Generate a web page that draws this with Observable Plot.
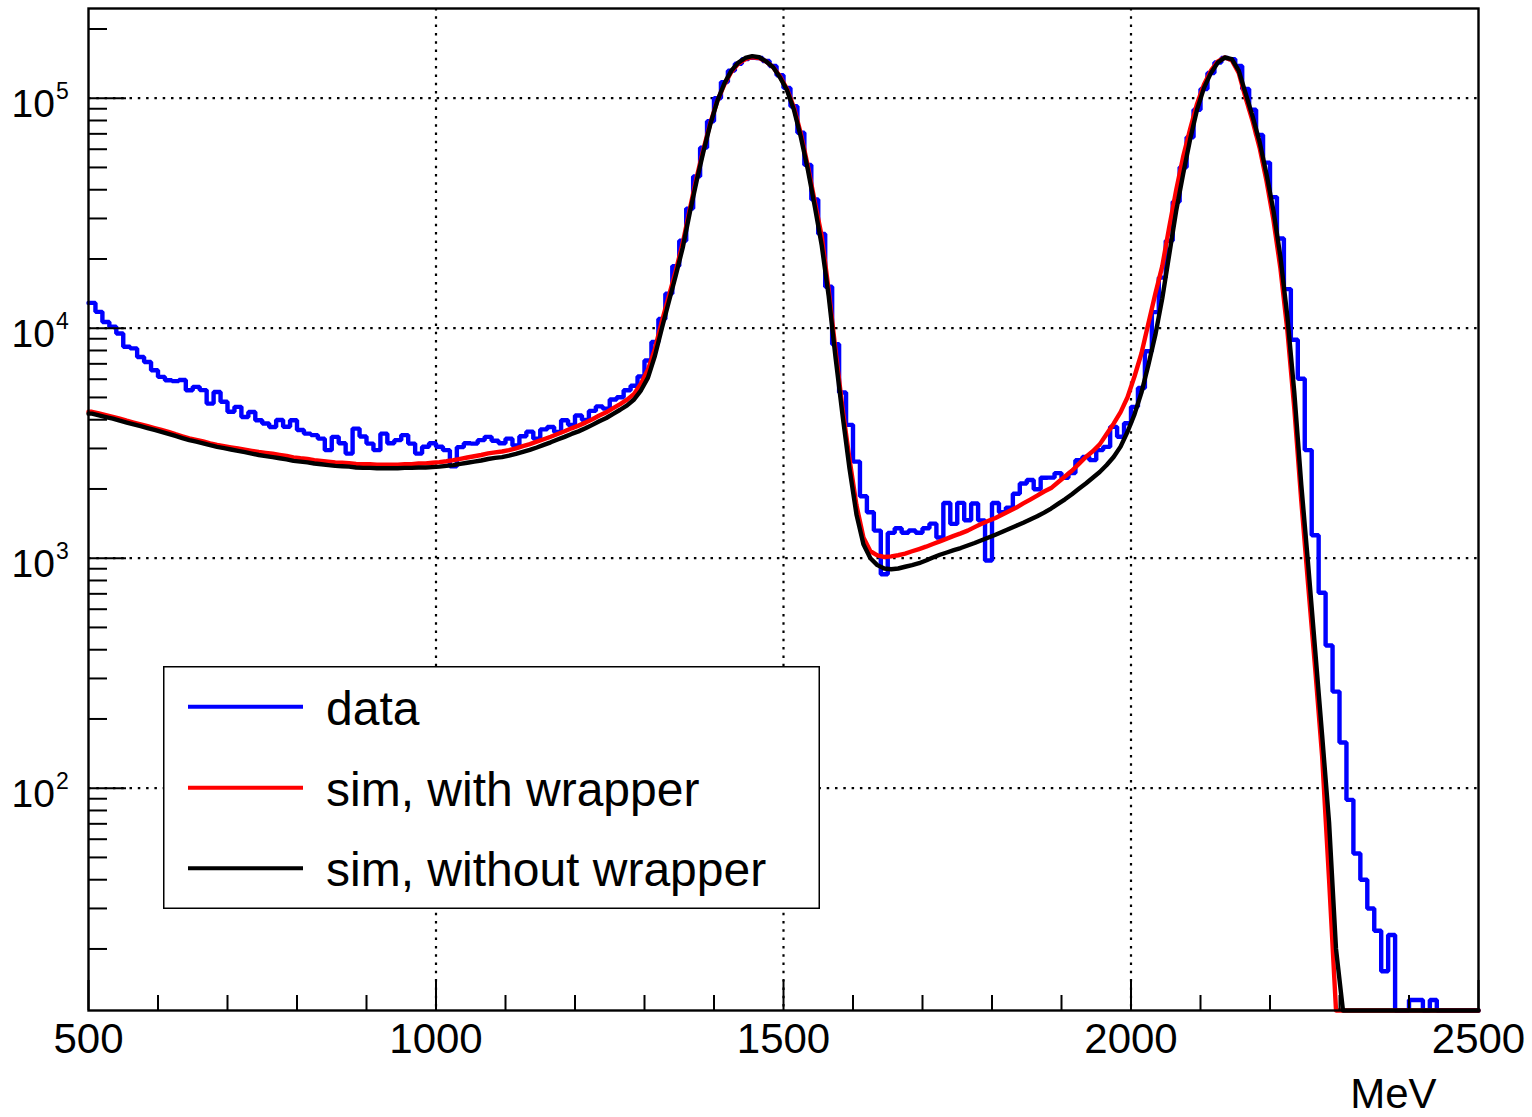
<!DOCTYPE html>
<html>
<head>
<meta charset="utf-8">
<script src="https://cdn.jsdelivr.net/npm/d3@7"></script>
<script src="https://cdn.jsdelivr.net/npm/@observablehq/plot@0.6"></script>
<style>
  body { margin: 0; background: #fff; }
  #wrap { position: relative; width: 1532px; height: 1117px; }
  #legend { position: absolute; left: 163px; top: 666px; }
</style>
</head>
<body>
<div id="wrap"></div>
<script>
// ---- histogram binning (MeV) ----
const binStart = 500;
const binWidth = 10;

// ---- series: counts per 10 MeV bin, 500..2500 MeV ----
const dataCounts = [
  12880, 11780, 10640, 10140, 9480, 8300, 8170, 7500, 7130, 6560,
  6140, 5940, 5890, 5950, 5370, 5560, 5380, 4700, 5280, 4790,
  4330, 4550, 4110, 4320, 3980, 3850, 3720, 3990, 3730, 3980,
  3610, 3480, 3430, 3310, 2950, 3370, 3160, 2850, 3660, 3380,
  3150, 2950, 3480, 3160, 3260, 3430, 3150, 2850, 3050, 3160,
  3050, 2950, 2510, 3040, 3160, 3150, 3260, 3370, 3240, 3160,
  3310, 3090, 3390, 3550, 3310, 3630, 3720, 3540, 3980, 3800,
  4170, 3990, 4370, 4570, 4470, 4900, 5010, 5370, 5620, 6170,
  7240, 8710, 10960, 14130, 18620, 23990, 33110, 45710, 60950, 79430,
  100000, 117500, 131800, 141300, 147900, 150000, 149600, 145200, 138000, 125900,
  110900, 92260, 70790, 51290, 36310, 25700, 15140, 8510, 5250, 3800,
  2630, 1860, 1585, 1318, 851, 1288, 1349, 1290, 1320, 1290,
  1350, 1413, 1230, 1738, 1410, 1740, 1462, 1730, 1460, 977,
  1738, 1585, 1660, 1905, 2113, 2188, 1995, 2239, 2240, 2344,
  2238, 2345, 2667, 2754, 2670, 2951, 3048, 3724, 3373, 3864,
  4550, 5495, 7943, 11750, 16600, 23990, 35480, 50120, 67610, 89130,
  109600, 128800, 142900, 149600, 147900, 138000, 109600, 89130, 69180, 52480,
  37150, 24550, 14790, 8913, 6026, 2951, 1259, 708, 417, 263,
  158, 89, 52, 40, 30, 24, 16, 23, 0, 0,
  12, 12, 0, 12, 0, 0, 0, 0, 0, 0
];

const simWithWrapper = [
  4330, 4260, 4190, 4120, 4040, 3960, 3890, 3820, 3750, 3680,
  3610, 3540, 3460, 3390, 3320, 3270, 3220, 3160, 3110, 3070,
  3035, 3000, 2965, 2930, 2895, 2870, 2845, 2815, 2785, 2745,
  2720, 2700, 2670, 2650, 2630, 2610, 2600, 2590, 2570, 2560,
  2560, 2550, 2550, 2550, 2550, 2560, 2565, 2580, 2585, 2600,
  2615, 2640, 2670, 2705, 2740, 2775, 2810, 2855, 2885, 2910,
  2950, 3005, 3070, 3135, 3210, 3290, 3375, 3470, 3565, 3670,
  3770, 3885, 4020, 4170, 4310, 4490, 4680, 4890, 5180, 5750,
  6607, 8128, 10720, 13800, 17780, 23440, 32730, 45190, 60260, 78520,
  97720, 114800, 130300, 141300, 147900, 150700, 149600, 144500, 136500, 124500,
  109600, 91200, 69980, 50700, 35480, 25120, 14620, 7943, 4467, 2692,
  1698, 1230, 1072, 1028, 1012, 1019, 1030, 1047, 1072, 1096,
  1122, 1153, 1183, 1216, 1250, 1282, 1318, 1365, 1413, 1455,
  1496, 1549, 1603, 1660, 1730, 1799, 1871, 1950, 2018, 2138,
  2265, 2399, 2570, 2754, 2917, 3126, 3467, 3846, 4315, 5012,
  6166, 7762, 10470, 14130, 18620, 27540, 39810, 55590, 73280, 94410,
  114800, 131800, 144500, 150300, 146200, 128800, 100000, 79430, 60950, 43650,
  29510, 18200, 9772, 4467, 1778, 759, 331, 138, 40, 0,
  0, 0, 0, 0, 0, 0, 0, 0, 0, 0,
  0, 0, 0, 0, 0, 0, 0, 0, 0, 0
];

const simWithoutWrapper = [
  4250, 4180, 4110, 4040, 3960, 3890, 3820, 3750, 3680, 3610,
  3540, 3470, 3400, 3330, 3260, 3210, 3160, 3100, 3050, 3010,
  2970, 2930, 2890, 2850, 2810, 2780, 2750, 2720, 2690, 2650,
  2630, 2610, 2580, 2560, 2540, 2520, 2510, 2500, 2480, 2470,
  2470, 2460, 2460, 2460, 2460, 2470, 2470, 2480, 2480, 2490,
  2500, 2520, 2540, 2570, 2600, 2630, 2660, 2700, 2730, 2750,
  2790, 2840, 2900, 2960, 3030, 3110, 3190, 3280, 3370, 3470,
  3560, 3670, 3800, 3940, 4070, 4240, 4420, 4620, 4900, 5370,
  6100, 7590, 10000, 13030, 16980, 22390, 31620, 43650, 58880, 77620,
  97720, 116100, 131800, 142900, 149600, 152400, 150700, 144500, 136500, 123000,
  108400, 89130, 67610, 48980, 33880, 22910, 13800, 7410, 4170, 2450,
  1550, 1150, 1000, 933, 902, 895, 902, 918, 933, 951,
  977, 1007, 1035, 1059, 1084, 1107, 1135, 1164, 1197, 1230,
  1265, 1303, 1343, 1384, 1426, 1472, 1521, 1578, 1644, 1722,
  1803, 1897, 2004, 2113, 2239, 2371, 2541, 2754, 3055, 3548,
  4217, 5248, 6918, 9333, 13490, 20890, 32360, 46770, 66070, 89130,
  110900, 128800, 142900, 150300, 147900, 131800, 104700, 83180, 64570, 46770,
  32360, 20420, 11220, 5248, 2089, 933, 398, 170, 71, 20,
  0, 0, 0, 0, 0, 0, 0, 0, 0, 0,
  0, 0, 0, 0, 0, 0, 0, 0, 0, 0
];

// ---- axes ----
const xDomain = [500, 2500];
const yDomain = [10.8, 245500];
const xTicksMajor = [500, 1000, 1500, 2000, 2500];
const xTicksMinor = [600, 700, 800, 900, 1100, 1200, 1300, 1400, 1600, 1700, 1800, 1900, 2100, 2200, 2300, 2400];
const xGridValues = [1000, 1500, 2000];
const yTicksMajor = [100, 1000, 10000, 100000];
const yTickBase = "10";
const yTickExponents = ["2", "3", "4", "5"];
const yTicksMinor = [20, 30, 40, 50, 60, 70, 80, 90,
  200, 300, 400, 500, 600, 700, 800, 900,
  2000, 3000, 4000, 5000, 6000, 7000, 8000, 9000,
  20000, 30000, 40000, 50000, 60000, 70000, 80000, 90000, 200000];
const xAxisTitle = "MeV";

// ---- legend ----
const legendLabels = ["data", "sim, with wrapper", "sim, without wrapper"];
const seriesColors = ["#0000ff", "#ff0000", "#000000"];

const yFloor = v => Math.max(v, yDomain[0]);
const nBins = dataCounts.length;
const xEnd = binStart + nBins * binWidth;

// step-histogram rows: bin low edges + closing right edge
function stepRows(values) {
  const rows = values.map((v, i) => ({x: binStart + i * binWidth, v}));
  rows.push({x: xEnd, v: values[values.length - 1]});
  return rows;
}
// smooth rows through bin centres, held flat to the outer edges
function centreRows(values) {
  const rows = [{x: binStart, v: values[0]}];
  values.forEach((v, i) => rows.push({x: binStart + (i + 0.5) * binWidth, v}));
  rows.push({x: xEnd, v: values[values.length - 1]});
  return rows;
}

const W = 1532, H = 1117;
const mL = 88, mR = 54, mT = 8, mB = 107;
const plotW = W - mL - mR, plotH = H - mT - mB;
const font = "'Liberation Sans', Arial, Helvetica, sans-serif";
const dotted = {stroke: "black", strokeWidth: 2.2, strokeDasharray: "2.5,5.8"};
const lineW = 4.4;

const chart = Plot.plot({
  width: W, height: H,
  marginLeft: mL, marginRight: mR, marginTop: mT, marginBottom: mB,
  style: {fontFamily: font, background: "white", overflow: "visible"},
  x: {domain: xDomain, axis: null},
  y: {type: "log", domain: yDomain, axis: null},
  marks: [
    Plot.ruleX(xGridValues, {x: d => d, ...dotted}),
    Plot.ruleY(yTicksMajor, {y: d => d, ...dotted}),
    Plot.line(stepRows(dataCounts), {x: "x", y: d => yFloor(d.v), curve: "step-after",
      stroke: seriesColors[0], strokeWidth: lineW, strokeLinejoin: "miter"}),
    Plot.line(centreRows(simWithWrapper), {x: "x", y: d => yFloor(d.v), curve: "linear",
      stroke: seriesColors[1], strokeWidth: lineW}),
    Plot.line(centreRows(simWithoutWrapper), {x: "x", y: d => yFloor(d.v), curve: "linear",
      stroke: seriesColors[2], strokeWidth: lineW}),
    Plot.tickX(xTicksMajor, {x: d => d, insetTop: plotH - 30, stroke: "black", strokeWidth: 2}),
    Plot.tickX(xTicksMinor, {x: d => d, insetTop: plotH - 15, stroke: "black", strokeWidth: 2}),
    Plot.tickY(yTicksMajor, {y: d => d, insetRight: plotW - 38, stroke: "black", strokeWidth: 2}),
    Plot.tickY(yTicksMinor, {y: d => d, insetRight: plotW - 19, stroke: "black", strokeWidth: 2}),
    Plot.frame({stroke: "black", strokeWidth: 2.4}),
    Plot.text(xTicksMajor, {x: d => d, frameAnchor: "bottom", lineAnchor: "bottom", dy: 42,
      text: d => String(d), fontSize: 42, textAnchor: "middle"}),
    Plot.text(yTicksMajor, {y: d => d, frameAnchor: "left", textAnchor: "end", lineAnchor: "bottom",
      dx: -33.5, dy: 19, text: () => yTickBase, fontSize: 39}),
    Plot.text(yTicksMajor, {y: d => d, frameAnchor: "left", textAnchor: "start", lineAnchor: "bottom",
      dx: -32.5, dy: 0.6, text: (d, i) => yTickExponents[i], fontSize: 23}),
    Plot.text([xAxisTitle], {frameAnchor: "bottom-right", textAnchor: "end", lineAnchor: "bottom",
      dx: -42, dy: 97, text: d => d, fontSize: 42})
  ]
});

const wrap = document.getElementById("wrap");
wrap.appendChild(chart);

// legend overlay (inside the frame, white-filled box)
const lg = d3.create("svg")
  .attr("id", "legend")
  .attr("width", 658).attr("height", 244)
  .style("font-family", font);
lg.append("rect").attr("x", 0.75).attr("y", 0.75).attr("width", 655.5).attr("height", 241.5)
  .attr("fill", "white").attr("stroke", "black").attr("stroke-width", 1.5);
const rowY = [40.7, 121.7, 202.3];
legendLabels.forEach((lab, i) => {
  lg.append("line").attr("x1", 25).attr("x2", 140).attr("y1", rowY[i]).attr("y2", rowY[i])
    .attr("stroke", seriesColors[i]).attr("stroke-width", 4);
  lg.append("text").attr("x", 163).attr("y", rowY[i] + 18)
    .attr("font-size", 48).attr("fill", "black").text(lab);
});
wrap.appendChild(lg.node());
</script>
</body>
</html>
